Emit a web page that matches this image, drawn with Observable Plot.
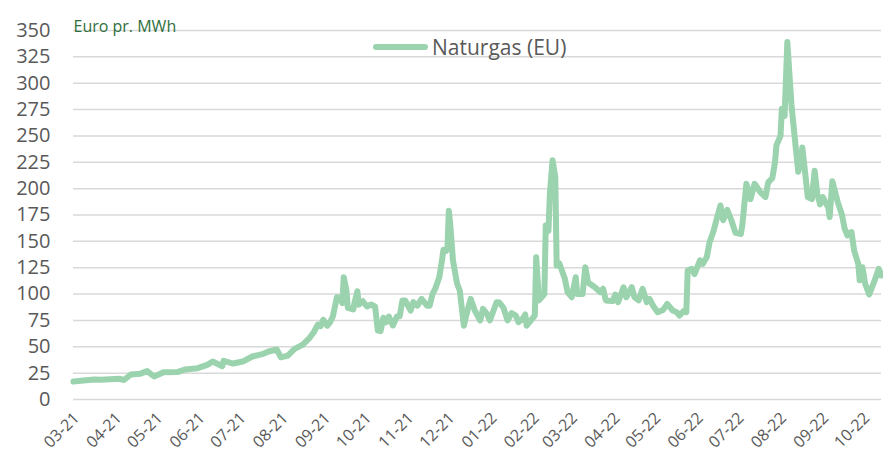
<!DOCTYPE html>
<html>
<head>
<meta charset="utf-8">
<script src="https://cdn.jsdelivr.net/npm/d3@7"></script>
<script src="https://cdn.jsdelivr.net/npm/@observablehq/plot@0.6"></script>
<style>
  html, body { margin: 0; padding: 0; background: #fff; }
  #wrap { position: relative; width: 883px; height: 455px; font-family: "Open Sans", sans-serif; }
  #legend { position: absolute; left: 373px; top: 33px; display: flex; align-items: center; color: #595959; font-size: 21px; }
  #legend .sw { width: 55px; height: 6px; border-radius: 3px; background: #9ad3ae; margin-right: 4px; }
</style>
</head>
<body>
<div id="wrap">
  <div id="chart"></div>
  <div id="legend"><span class="sw"></span><span>Naturgas (EU)</span></div>
</div>
<script>
const seriesName = "Naturgas (EU)";
const unitLabel = "Euro pr. MWh";

const dates = [
  "2021-03-21","2021-04-05","2021-04-10","2021-04-24","2021-04-27","2021-05-02","2021-05-09","2021-05-14","2021-05-19","2021-05-26",
  "2021-06-05","2021-06-11","2021-06-20","2021-06-27","2021-07-01","2021-07-08","2021-07-09","2021-07-16","2021-07-23","2021-07-30",
  "2021-08-07","2021-08-11","2021-08-17","2021-08-20","2021-08-25","2021-08-30","2021-09-05","2021-09-10","2021-09-13","2021-09-16",
  "2021-09-18","2021-09-20","2021-09-23","2021-09-25","2021-09-27","2021-09-30","2021-10-02","2021-10-04","2021-10-05","2021-10-07",
  "2021-10-08","2021-10-12","2021-10-13","2021-10-15","2021-10-16","2021-10-19","2021-10-22","2021-10-25","2021-10-28","2021-10-30",
  "2021-11-01","2021-11-03","2021-11-05","2021-11-07","2021-11-10","2021-11-13","2021-11-15","2021-11-17","2021-11-19","2021-11-23",
  "2021-11-25","2021-11-28","2021-12-01","2021-12-05","2021-12-07","2021-12-09","2021-12-11","2021-12-14","2021-12-16","2021-12-17",
  "2021-12-19","2021-12-20","2021-12-21","2021-12-22","2021-12-24","2021-12-27","2021-12-29","2022-01-01","2022-01-03","2022-01-06",
  "2022-01-09","2022-01-13","2022-01-15","2022-01-18","2022-01-20","2022-01-25","2022-01-27","2022-01-30","2022-02-02","2022-02-05",
  "2022-02-08","2022-02-10","2022-02-13","2022-02-15","2022-02-16","2022-02-20","2022-02-22","2022-02-23","2022-02-25","2022-02-27",
  "2022-03-01","2022-03-02","2022-03-04","2022-03-05","2022-03-07","2022-03-09","2022-03-10","2022-03-12","2022-03-16","2022-03-18",
  "2022-03-21","2022-03-24","2022-03-25","2022-03-29","2022-03-31","2022-04-02","2022-04-07","2022-04-11","2022-04-13","2022-04-15",
  "2022-04-20","2022-04-22","2022-04-24","2022-04-28","2022-04-30","2022-05-04","2022-05-06","2022-05-09","2022-05-12","2022-05-15",
  "2022-05-17","2022-05-20","2022-05-23","2022-05-27","2022-05-30","2022-06-03","2022-06-06","2022-06-08","2022-06-11","2022-06-13",
  "2022-06-14","2022-06-17","2022-06-19","2022-06-23","2022-06-25","2022-06-28","2022-06-30","2022-07-03","2022-07-05","2022-07-08",
  "2022-07-10","2022-07-13","2022-07-16","2022-07-19","2022-07-23","2022-07-24","2022-07-27","2022-07-30","2022-08-02","2022-08-06",
  "2022-08-10","2022-08-12","2022-08-15","2022-08-17","2022-08-18","2022-08-21","2022-08-22","2022-08-24","2022-08-26","2022-08-29",
  "2022-09-01","2022-09-03","2022-09-05","2022-09-06","2022-09-10","2022-09-13","2022-09-15","2022-09-17","2022-09-19","2022-09-21",
  "2022-09-25","2022-09-26","2022-09-28","2022-10-02","2022-10-05","2022-10-07","2022-10-09","2022-10-12","2022-10-14","2022-10-17",
  "2022-10-18","2022-10-20","2022-10-22","2022-10-25","2022-10-29","2022-11-01","2022-11-03"
];

const prices = [
  17, 19, 18.7, 19.6, 18.5, 23.7, 24.5, 26.9, 21.8, 25.9,
  26, 28.5, 29.7, 32.9, 36, 31.6, 36.7, 34.1, 36, 40.8,
  43.3, 45.5, 47.4, 40, 41.7, 48, 52, 58.5, 63.8, 71,
  69.5, 75.6, 70, 73.3, 78.7, 97, 96.5, 91.4, 116, 103.4,
  87, 85.4, 92.3, 102.7, 90, 93.2, 88.2, 90.1, 88, 65.4,
  64.8, 77.5, 73.3, 78.7, 70.2, 78.7, 79, 94, 94, 84.4,
  92.3, 89, 95.5, 89, 89, 100, 105, 116, 132, 142,
  141, 144.5, 179, 166.6, 132, 110, 103.4, 70, 81, 95.5,
  84.4, 75, 86, 81, 75, 92.3, 92, 87, 75, 82,
  79.7, 73.3, 76.5, 80.6, 70, 76.5, 79.7, 135, 94, 97,
  100, 165, 160, 195, 227, 211, 127, 129, 114.5, 101.8,
  97, 116, 100, 100, 125.5, 111, 106.5, 101.8, 105, 94,
  93.3, 99.6, 92.3, 106.5, 97, 106.5, 97, 94, 105, 92.3,
  95.5, 88.2, 82.8, 85, 90.7, 84.4, 82.8, 79.7, 83.8, 82.8,
  122.4, 124, 119, 132, 128.7, 135, 149, 160, 170, 184,
  170, 180, 170, 158, 157, 165, 204.6, 190, 204.6, 197,
  192, 206, 210, 225, 241, 250, 275.7, 269, 339, 280,
  241, 216, 227, 239, 192, 190, 217, 195, 185, 192,
  182, 173, 207, 187, 175.5, 162, 155.6, 158.7, 141, 128.7,
  113, 125.5, 110, 99.6, 113, 124, 117.6
];

const tickDates = [
  "2021-03-21","2021-04-21","2021-05-21","2021-06-21","2021-07-21","2021-08-21","2021-09-21","2021-10-21",
  "2021-11-21","2021-12-21","2022-01-21","2022-02-21","2022-03-21","2022-04-21","2022-05-21","2022-06-21",
  "2022-07-21","2022-08-21","2022-09-21","2022-10-21"
];
const yTicks = [0, 25, 50, 75, 100, 125, 150, 175, 200, 225, 250, 275, 300, 325, 350];

const data = dates.map((d, i) => ({date: new Date(d), value: prices[i]}));
const xTicks = tickDates.map(d => new Date(d));

const chart = Plot.plot({
  width: 883,
  height: 455,
  marginTop: 30,
  marginBottom: 56,
  marginLeft: 73,
  marginRight: 2,
  style: {fontFamily: "'Open Sans', sans-serif", background: "#fff", color: "#595959"},
  x: {type: "utc", domain: [new Date("2021-03-21"), new Date("2022-11-03")]},
  y: {domain: [0, 350]},
  marks: [
    Plot.gridY(yTicks, {stroke: "#d9d9d9", strokeOpacity: 1, strokeWidth: 1.5}),
    Plot.axisY(yTicks, {tickSize: 0, tickPadding: 23, fontSize: 20, fill: "#595959", label: null}),
    Plot.axisX(xTicks, {tickSize: 0, tickPadding: 16, dx: 3, tickRotate: -45, fontSize: 16, fill: "#595959", label: null, tickFormat: d3.utcFormat("%m-%y")}),
    Plot.line(data, {x: "date", y: "value", stroke: "#9ad3ae", strokeWidth: 6, strokeLinejoin: "round", strokeLinecap: "round"}),
    Plot.text([unitLabel], {frameAnchor: "top-left", textAnchor: "start", dy: -10, fill: "#2f6f3e", fontSize: 16})
  ]
});
document.getElementById("chart").appendChild(chart);
</script>
</body>
</html>
